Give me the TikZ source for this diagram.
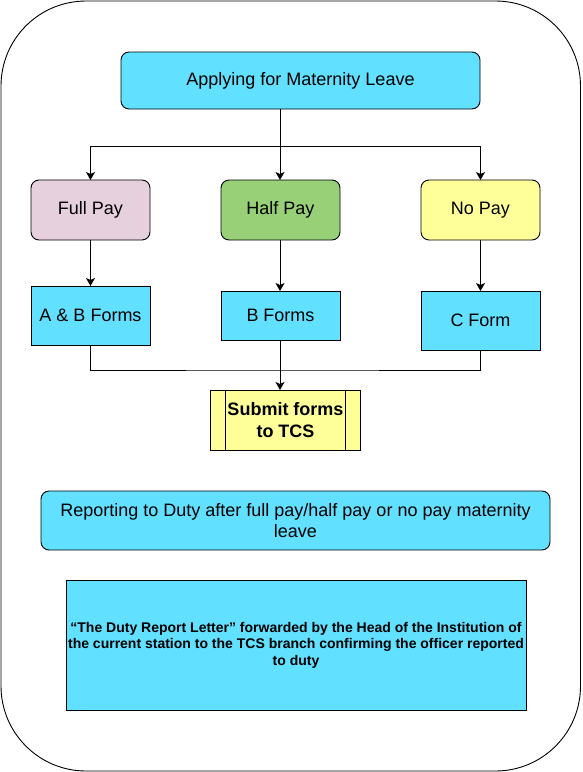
\documentclass[tikz,border=0pt]{standalone}
\usepackage{fontspec}
\setmainfont{Liberation Sans}
\usetikzlibrary{arrows.meta,shapes.misc}
\definecolor{cyanbox}{HTML}{61E0FF}
\definecolor{pinkbox}{HTML}{E6D0DE}
\definecolor{greenbox}{HTML}{97D077}
\definecolor{yellowbox}{HTML}{FFFF99}
\begin{document}
\begin{tikzpicture}[x=1pt,y=-1pt,
  every node/.style={inner sep=0pt,outer sep=0pt},
  base/.style={draw=black,line width=0.9pt,font=\fontsize{18}{21.6}\selectfont,align=center},
  rbox/.style={base,rounded corners=8pt},
  sbox/.style={base},
  arr/.style={line width=0.9pt,-{Stealth[length=8pt,width=9pt,inset=2pt]}},
  ln/.style={line width=0.9pt}]
\useasboundingbox (0,0) rectangle (582,772);
\draw[line width=0.9pt,rounded corners=85pt] (1,1) rectangle (580.5,771);

\node[rbox,fill=cyanbox,minimum width=359pt,minimum height=57pt] (top) at (300.5,80.5) {Applying for Maternity Leave};

\node[rbox,fill=pinkbox,minimum width=119pt,minimum height=60pt] (full) at (90.5,210) {Full Pay};
\node[rbox,fill=greenbox,minimum width=119pt,minimum height=60pt] (half) at (280.5,210) {Half Pay};
\node[rbox,fill=yellowbox,minimum width=119pt,minimum height=60pt] (none) at (480.5,210) {No Pay};

\node[sbox,fill=cyanbox,minimum width=119pt,minimum height=59pt] (ab) at (90.5,315.5) {A \& B Forms};
\node[sbox,fill=cyanbox,minimum width=119pt,minimum height=49pt] (bf) at (280.5,315.5) {B Forms};
\node[sbox,fill=cyanbox,minimum width=119pt,minimum height=59pt] (cf) at (480.5,320.5) {C Form};

\node[sbox,fill=yellowbox,minimum width=150pt,minimum height=60pt,font=\fontsize{18}{21.6}\selectfont\bfseries] (sub) at (285.5,420) {Submit forms\\to TCS};
\draw[ln] ([xshift=15pt]sub.north west) -- ([xshift=15pt]sub.south west);
\draw[ln] ([xshift=-15pt]sub.north east) -- ([xshift=-15pt]sub.south east);

\node[rbox,fill=cyanbox,minimum width=509pt,minimum height=59pt] (rep) at (295.5,520.5) {Reporting to Duty after full pay/half pay or no pay maternity\\leave};

\node[sbox,fill=cyanbox,minimum width=460pt,minimum height=130pt,font=\fontsize{14}{16.5}\selectfont\bfseries] (duty) at (296,645) {“The Duty Report Letter” forwarded by the Head of the Institution of\\the current station to the TCS branch confirming the officer reported\\to duty};

\coordinate (split) at (280,146);
\coordinate (join) at (280,370);
\draw[ln] (top.south -| split) -- (split);
\draw[arr] (split) -| (full.north);
\draw[arr] (split) -- (split |- half.north);
\draw[arr] (split) -| (none.north);
\draw[arr] (full.south) -- (ab.north);
\draw[arr] (half.south -| split) -- (bf.north -| split);
\draw[arr] (none.south) -- (cf.north);
\draw[ln] (ab.south) |- (join) -| (cf.south);
\draw[arr] (bf.south -| split) -- (sub.north -| split);
\end{tikzpicture}
\end{document}
